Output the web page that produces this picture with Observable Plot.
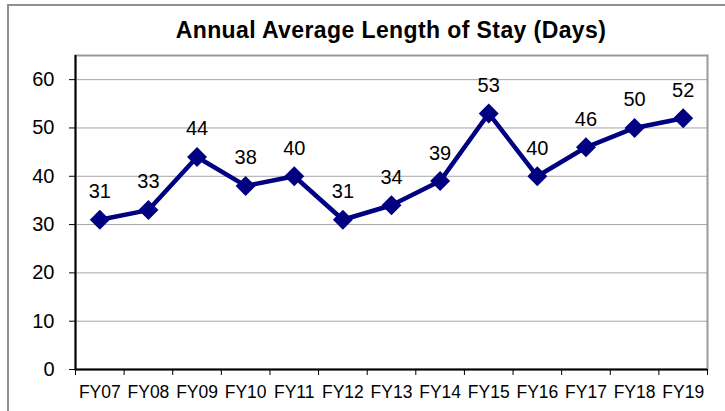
<!DOCTYPE html>
<html>
<head>
<meta charset="utf-8">
<script src="https://cdn.jsdelivr.net/npm/d3@7"></script>
<script src="https://cdn.jsdelivr.net/npm/@observablehq/plot@0.6"></script>
<style>
  html, body { margin: 0; padding: 0; background: #fff; }
  #wrap { position: relative; width: 725px; height: 411px; overflow: hidden; background: #fff; font-family: "Liberation Sans", Arial, sans-serif; }
  #outer { position: absolute; left: 7px; top: 4px; width: 800px; height: 500px; border: 2px solid #8f8f8f; box-sizing: border-box; }
  #title { position: absolute; left: 0; top: 17px; width: 782px; text-align: center; font-size: 23px; font-weight: bold; color: #000; line-height: 26px; letter-spacing: 0.4px; }
  #chart { position: absolute; left: 0; top: 45px; }
  #chart svg { background: transparent !important; }
</style>
</head>
<body>
<div id="wrap">
  <div id="outer"></div>
  <div id="title">Annual Average Length of Stay (Days)</div>
  <div id="chart"></div>
</div>
<script>
const categories = ["FY07","FY08","FY09","FY10","FY11","FY12","FY13","FY14","FY15","FY16","FY17","FY18","FY19"];
const values = [31, 33, 44, 38, 40, 31, 34, 39, 53, 40, 46, 50, 52];
const yTicks = [0, 10, 20, 30, 40, 50, 60];

const data = categories.map((c, i) => ({i, cat: c, v: values[i]}));
const boundaries = d3.range(-0.5, categories.length, 1);
const navy = "#000080";

const plot = Plot.plot({
  width: 725,
  height: 366,
  marginLeft: 75,
  marginRight: 18,
  marginTop: 10,
  marginBottom: 42,
  style: {fontFamily: "'Liberation Sans', Arial, sans-serif", fontSize: "17px", color: "#000", background: "transparent"},
  x: {type: "linear", domain: [-0.5, categories.length - 0.5]},
  y: {domain: [0, 65]},
  marks: [
    Plot.gridY(yTicks.filter(d => d > 0), {stroke: "#a6a6a6", strokeOpacity: 1, strokeWidth: 1}),
    Plot.frame({stroke: "#999", strokeWidth: 2}),
    Plot.ruleX([-0.5], {stroke: "#000", strokeWidth: 2}),
    Plot.ruleY([0], {stroke: "#000", strokeWidth: 2}),
    Plot.axisY(yTicks, {tickSize: 6, tickPadding: 15, fontSize: 20, label: null, stroke: "#000"}),
    Plot.axisX(boundaries, {tickSize: 6, tickFormat: () => "", label: null, stroke: "#000"}),
    Plot.axisX(d3.range(categories.length), {tickSize: 0, tickPadding: 16, fontSize: 17.5, tickFormat: i => categories[i], label: null}),
    Plot.line(data, {x: "i", y: "v", stroke: navy, strokeWidth: 4.5}),
    Plot.dot(data, {x: "i", y: "v", symbol: "diamond2", r: 9, fill: navy, stroke: navy, strokeWidth: 0}),
    Plot.text(data, {x: "i", y: "v", text: d => String(d.v), dy: -28, fontSize: 20, fill: "#000"})
  ]
});
document.getElementById("chart").appendChild(plot);
</script>
</body>
</html>
